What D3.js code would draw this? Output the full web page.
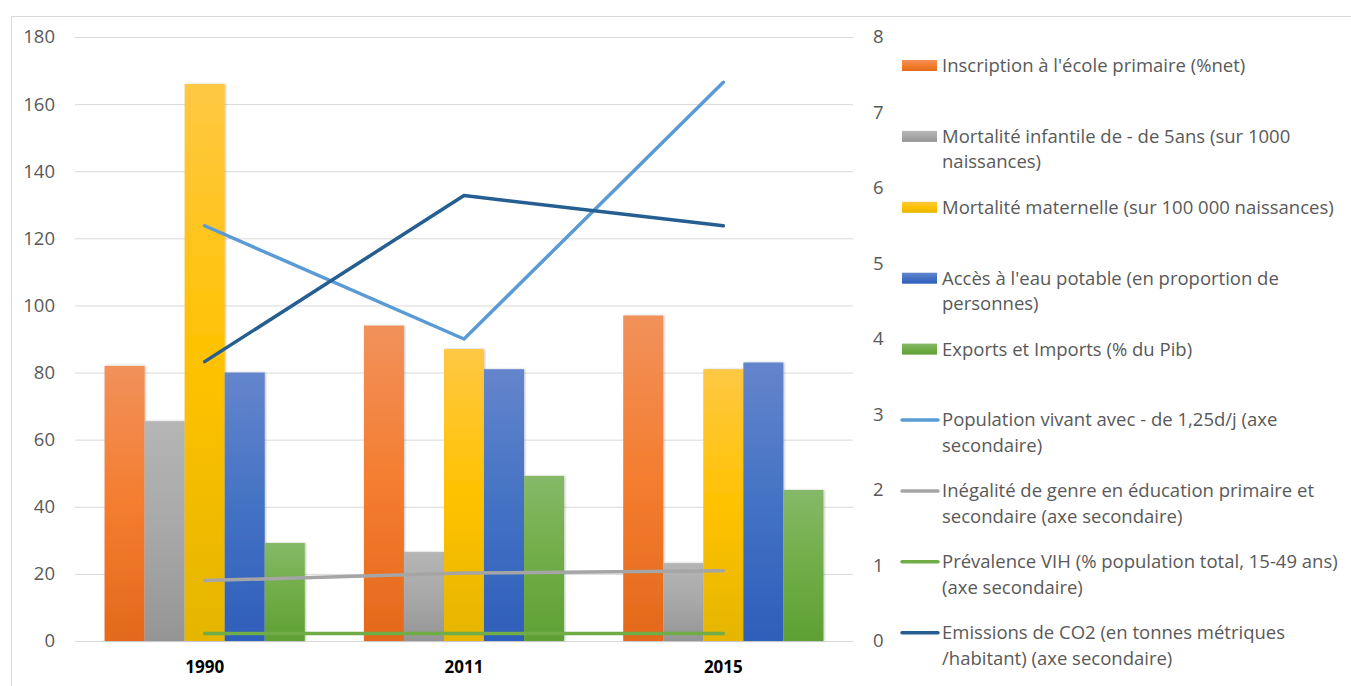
<!DOCTYPE html>
<html>
<head>
<meta charset="utf-8">
<script src="https://cdn.jsdelivr.net/npm/d3@7"></script>
<style>
  html, body { margin: 0; padding: 0; background: #fff; }
  svg { display: block; }
  text { font-family: "Open Sans", "DejaVu Sans", sans-serif; }
</style>
</head>
<body>
<svg id="chart" width="1351" height="686"></svg>
<script>
// ---------- DATA ----------
const categories = ["1990", "2011", "2015"];

const barSeries = [
  "Inscription à l'école primaire (%net)",
  "Mortalité infantile de - de 5ans (sur 1000 naissances)",
  "Mortalité maternelle (sur 100 000 naissances)",
  "Accès à l'eau potable (en proportion de personnes)",
  "Exports et Imports (% du Pib)"
];
const inscription = [82, 94, 97];
const mortaliteInfantile = [65.5, 26.5, 23.2];
const mortaliteMaternelle = [166, 87, 81];
const accesEau = [80, 81, 83];
const exportsImports = [29.2, 49.2, 45];

const lineSeries = [
  "Population vivant avec - de 1,25d/j (axe secondaire)",
  "Inégalité de genre en éducation primaire et secondaire (axe secondaire)",
  "Prévalence VIH (% population total, 15-49 ans) (axe secondaire)",
  "Emissions de CO2 (en tonnes métriques /habitant) (axe secondaire)"
];
const population = [5.5, 4.0, 7.4];
const inegalite = [0.8, 0.9, 0.93];
const vih = [0.1, 0.1, 0.1];
const emissions = [3.7, 5.9, 5.5];

const leftTicks = [0, 20, 40, 60, 80, 100, 120, 140, 160, 180];
const rightTicks = [0, 1, 2, 3, 4, 5, 6, 7, 8];

// legend labels as wrapped lines (as in the picture)
const legendLines = [
  ["Inscription à l'école primaire (%net)"],
  ["Mortalité infantile de - de 5ans (sur 1000", "naissances)"],
  ["Mortalité maternelle (sur 100 000 naissances)"],
  ["Accès à l'eau potable (en proportion de", "personnes)"],
  ["Exports et Imports (% du Pib)"],
  ["Population vivant avec - de 1,25d/j (axe", "secondaire)"],
  ["Inégalité de genre en éducation primaire et", "secondaire (axe secondaire)"],
  ["Prévalence VIH (% population total, 15-49 ans)", "(axe secondaire)"],
  ["Emissions de CO2 (en tonnes métriques", "/habitant) (axe secondaire)"]
];

// ---------- STYLE ----------
const barValues = [inscription, mortaliteInfantile, mortaliteMaternelle, accesEau, exportsImports];
const lineValues = [population, inegalite, vih, emissions];
const barGrad = [
  ["#F1915B", "#F47D2F", "#E3691B"],
  ["#B5B5B5", "#A8A8A8", "#959595"],
  ["#FFC843", "#FFC200", "#E5B500"],
  ["#6485CC", "#4472C4", "#2E5EBA"],
  ["#85B968", "#71AD47", "#5FA034"]
];
const lineColors = ["#5B9BD5", "#A5A5A5", "#70AD47", "#255E91"];

const svg = d3.select("#chart");
const W = 1351, H = 686;

// chart frame
svg.append("rect").attr("x", 11.5).attr("y", 16.5).attr("width", W).attr("height", H)
  .attr("fill", "#fff").attr("stroke", "#D9D9D9").attr("stroke-width", 1);

const plot = { left: 75, right: 853, top: 37, bottom: 641 };

const x0 = d3.scaleBand().domain(categories).range([plot.left, plot.right]).paddingInner(0.228).paddingOuter(0.114);
const x1 = d3.scaleBand().domain(d3.range(barSeries.length)).range([0, x0.bandwidth()]).padding(0);
const y = d3.scaleLinear().domain([0, 180]).range([plot.bottom, plot.top]);
const y2 = d3.scaleLinear().domain([0, 8]).range([plot.bottom, plot.top]);

// defs
const defs = svg.append("defs");
barGrad.forEach((g, i) => {
  const lg = defs.append("linearGradient").attr("id", "g" + i)
    .attr("x1", 0).attr("y1", 0).attr("x2", 0).attr("y2", 1);
  lg.append("stop").attr("offset", "0%").attr("stop-color", g[0]);
  lg.append("stop").attr("offset", "50%").attr("stop-color", g[1]);
  lg.append("stop").attr("offset", "100%").attr("stop-color", g[2]);
});
const f = defs.append("filter").attr("id", "sh").attr("x", "-20%").attr("y", "-5%").attr("width", "140%").attr("height", "110%");
f.append("feDropShadow").attr("dx", 1).attr("dy", 0).attr("stdDeviation", 1.2)
  .attr("flood-color", "#000").attr("flood-opacity", 0.25);

// gridlines + left axis
const yAxis = d3.axisLeft(y).tickValues(leftTicks).tickSize(-(plot.right - plot.left)).tickPadding(20);
const gy = svg.append("g").attr("transform", `translate(${plot.left},0)`).call(yAxis);
gy.select(".domain").remove();
gy.selectAll(".tick line").attr("stroke", "#D9D9D9").attr("stroke-width", 1);
gy.selectAll(".tick text").attr("fill", "#595959").style("font-size", "18.5px");

// right axis
const y2Axis = d3.axisRight(y2).tickValues(rightTicks).tickSize(0).tickPadding(20);
const gy2 = svg.append("g").attr("transform", `translate(${plot.right},0)`).call(y2Axis);
gy2.select(".domain").remove();
gy2.selectAll(".tick text").attr("fill", "#595959").style("font-size", "18.5px");

// x axis
const xAxis = d3.axisBottom(x0).tickSize(0).tickPadding(20);
const gx = svg.append("g").attr("transform", `translate(0,${plot.bottom})`).call(xAxis);
gx.select(".domain").attr("stroke", "#D9D9D9");
gx.selectAll(".tick text").attr("fill", "#000").style("font-size", "17px").style("font-weight", "bold");

// bars
const groups = svg.append("g").selectAll("g").data(categories).join("g")
  .attr("transform", d => `translate(${x0(d)},0)`);
groups.selectAll("rect").data((c, ci) => barValues.map((vals, si) => ({ si, v: vals[ci] })))
  .join("rect")
  .attr("x", d => x1(d.si))
  .attr("width", x1.bandwidth())
  .attr("y", d => y(d.v))
  .attr("height", d => y(0) - y(d.v))
  .attr("fill", d => `url(#g${d.si})`)
  .attr("filter", "url(#sh)");

// lines
const line = d3.line().x((d, i) => x0(categories[i]) + x0.bandwidth() / 2).y(d => y2(d));
svg.append("g").selectAll("path").data(lineValues).join("path")
  .attr("d", d => line(d))
  .attr("fill", "none")
  .attr("stroke", (d, i) => lineColors[i])
  .attr("stroke-width", 3.5)
  .attr("stroke-linecap", "round")
  .attr("stroke-linejoin", "round");

// legend
const leg = svg.append("g");
const legX = 902, legTextX = 942, legY0 = 65.5, legStep = 70.9;
legendLines.forEach((lines, i) => {
  const cy = legY0 + i * legStep;
  if (i < barSeries.length) {
    leg.append("rect").attr("x", legX).attr("y", cy - 5.5).attr("width", 35).attr("height", 11)
      .attr("fill", `url(#g${i})`);
  } else {
    leg.append("line").attr("x1", legX).attr("x2", legX + 36).attr("y1", cy).attr("y2", cy)
      .attr("stroke", lineColors[i - barSeries.length]).attr("stroke-width", 3.5)
      .attr("stroke-linecap", "round");
  }
  lines.forEach((t, k) => {
    leg.append("text").attr("x", legTextX).attr("y", cy + k * 25.5)
      .attr("dy", "0.35em").attr("fill", "#595959").style("font-size", "18.5px").text(t);
  });
});
</script>
</body>
</html>
